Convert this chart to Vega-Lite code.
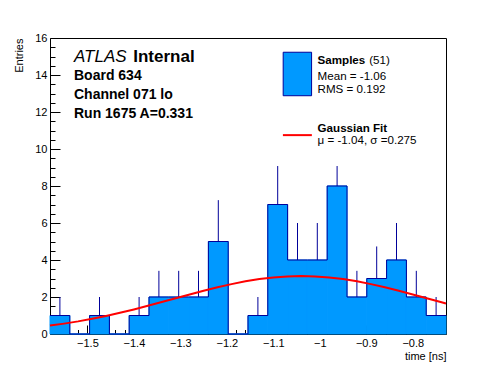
{
  "$schema": "https://vega.github.io/schema/vega-lite/v6.json",
  "width": 396,
  "height": 296,
  "autosize": "none",
  "padding": {"left": 50, "top": 38, "right": 50, "bottom": 38},
  "background": "white",
  "config": {
    "font": "Liberation Sans",
    "view": {"stroke": "black", "strokeWidth": 1},
    "axis": {
      "grid": false, "domain": false, "labelColor": "black", "tickColor": "black",
      "titleColor": "black", "labelFont": "Liberation Sans", "titleFont": "Liberation Sans",
      "labelFontSize": 11, "titleFontSize": 11, "titleFontWeight": "normal",
      "zindex": 1, "labelOverlap": false, "labelFlush": false
    }
  },
  "data": {"values": [{}]},
  "datasets": {
    "bins": [
      {"x0": -1.5805, "x1": -1.5379, "xc": -1.5592, "n": 1, "eh": 2},
      {"x0": -1.5379, "x1": -1.4953, "xc": -1.5166, "n": 0, "eh": 0},
      {"x0": -1.4953, "x1": -1.4527, "xc": -1.474, "n": 1, "eh": 2},
      {"x0": -1.4527, "x1": -1.4101, "xc": -1.4314, "n": 0, "eh": 0},
      {"x0": -1.4101, "x1": -1.3675, "xc": -1.3888, "n": 1, "eh": 2},
      {"x0": -1.3675, "x1": -1.3249, "xc": -1.3462, "n": 2, "eh": 3.414},
      {"x0": -1.3249, "x1": -1.2823, "xc": -1.3036, "n": 2, "eh": 3.414},
      {"x0": -1.2823, "x1": -1.2397, "xc": -1.261, "n": 2, "eh": 3.414},
      {"x0": -1.2397, "x1": -1.1971, "xc": -1.2184, "n": 5, "eh": 7.236},
      {"x0": -1.1971, "x1": -1.1545, "xc": -1.1758, "n": 0, "eh": 0},
      {"x0": -1.1545, "x1": -1.1119, "xc": -1.1332, "n": 1, "eh": 2},
      {"x0": -1.1119, "x1": -1.0693, "xc": -1.0906, "n": 7, "eh": 9.08},
      {"x0": -1.0693, "x1": -1.0267, "xc": -1.048, "n": 4, "eh": 6},
      {"x0": -1.0267, "x1": -0.9841, "xc": -1.0054, "n": 4, "eh": 6},
      {"x0": -0.9841, "x1": -0.9415, "xc": -0.9628, "n": 8, "eh": 9.08},
      {"x0": -0.9415, "x1": -0.8989, "xc": -0.9202, "n": 2, "eh": 3.414},
      {"x0": -0.8989, "x1": -0.8563, "xc": -0.8776, "n": 3, "eh": 4.732},
      {"x0": -0.8563, "x1": -0.8137, "xc": -0.835, "n": 4, "eh": 6},
      {"x0": -0.8137, "x1": -0.7711, "xc": -0.7924, "n": 2, "eh": 3.414},
      {"x0": -0.7711, "x1": -0.7285, "xc": -0.7498, "n": 1, "eh": 2}
    ],
    "edges": [
      {"t": -1.5805, "n": 1}, {"t": -1.5379, "n": 0}, {"t": -1.4953, "n": 1}, {"t": -1.4527, "n": 0},
      {"t": -1.4101, "n": 1}, {"t": -1.3675, "n": 2}, {"t": -1.3249, "n": 2}, {"t": -1.2823, "n": 2},
      {"t": -1.2397, "n": 5}, {"t": -1.1971, "n": 0}, {"t": -1.1545, "n": 1}, {"t": -1.1119, "n": 7},
      {"t": -1.0693, "n": 4}, {"t": -1.0267, "n": 4}, {"t": -0.9841, "n": 8}, {"t": -0.9415, "n": 2},
      {"t": -0.8989, "n": 3}, {"t": -0.8563, "n": 4}, {"t": -0.8137, "n": 2}, {"t": -0.7711, "n": 1},
      {"t": -0.7285, "n": 1}
    ],
    "fit": [
      {"t": -1.5805, "f": 0.454}, {"t": -1.55, "f": 0.561}, {"t": -1.52, "f": 0.682}, {"t": -1.49, "f": 0.821},
      {"t": -1.46, "f": 0.975}, {"t": -1.43, "f": 1.145}, {"t": -1.40, "f": 1.329}, {"t": -1.37, "f": 1.524},
      {"t": -1.34, "f": 1.727}, {"t": -1.31, "f": 1.933}, {"t": -1.28, "f": 2.139}, {"t": -1.25, "f": 2.338},
      {"t": -1.22, "f": 2.527}, {"t": -1.19, "f": 2.697}, {"t": -1.16, "f": 2.846}, {"t": -1.13, "f": 2.967},
      {"t": -1.10, "f": 3.056}, {"t": -1.07, "f": 3.111}, {"t": -1.04, "f": 3.13}, {"t": -1.01, "f": 3.111},
      {"t": -0.98, "f": 3.056}, {"t": -0.95, "f": 2.967}, {"t": -0.92, "f": 2.846}, {"t": -0.89, "f": 2.697},
      {"t": -0.86, "f": 2.527}, {"t": -0.83, "f": 2.338}, {"t": -0.80, "f": 2.139}, {"t": -0.77, "f": 1.933},
      {"t": -0.74, "f": 1.727}, {"t": -0.7285, "f": 1.648}
    ]
  },
  "resolve": {"axis": {"x": "independent", "y": "independent"}},
  "layer": [
    {
      "data": {"name": "bins"},
      "mark": {"type": "rect", "fill": "#0099ff", "stroke": "#0099ff", "strokeWidth": 1},
      "encoding": {
        "x": {"field": "x0", "type": "quantitative",
          "scale": {"domain": [-1.5805, -0.7285], "nice": false, "zero": false},
          "axis": {"orient": "bottom", "values": [-1.5, -1.4, -1.3, -1.2, -1.1, -1, -0.9, -0.8], "format": "~g",
            "tickSize": -9, "labelPadding": 12, "title": "time [ns]", "titleAnchor": "end", "titlePadding": 2}},
        "x2": {"field": "x1"},
        "y": {"field": "n", "type": "quantitative",
          "scale": {"domain": [0, 16], "nice": false, "zero": true},
          "axis": {"orient": "left", "values": [0, 2, 4, 6, 8, 10, 12, 14, 16], "format": "d",
            "tickSize": -10, "labelPadding": 13, "title": "Entries", "titleAnchor": "end", "titlePadding": 10}},
        "y2": {"datum": 0}
      }
    },
    {
      "data": {"name": "bins"},
      "mark": {"type": "rule", "color": "#000099", "strokeWidth": 1},
      "encoding": {
        "x": {"field": "xc", "type": "quantitative", "axis": null},
        "y": {"field": "n", "type": "quantitative", "axis": null},
        "y2": {"field": "eh"}
      }
    },
    {
      "data": {"name": "edges"},
      "mark": {"type": "line", "interpolate": "step-after", "color": "#000099", "strokeWidth": 1},
      "encoding": {
        "x": {"field": "t", "type": "quantitative",
          "axis": {"orient": "bottom", "labels": false, "title": null, "tickSize": -4.5,
            "values": [-1.58, -1.56, -1.54, -1.52, -1.5, -1.48, -1.46, -1.44, -1.42, -1.4, -1.38, -1.36, -1.34, -1.32, -1.3, -1.28, -1.26, -1.24, -1.22, -1.2, -1.18, -1.16, -1.14, -1.12, -1.1, -1.08, -1.06, -1.04, -1.02, -1, -0.98, -0.96, -0.94, -0.92, -0.9, -0.88, -0.86, -0.84, -0.82, -0.8, -0.78, -0.76, -0.74]}},
        "y": {"field": "n", "type": "quantitative",
          "axis": {"orient": "left", "labels": false, "title": null, "tickSize": -5,
            "values": [0.5, 1, 1.5, 2, 2.5, 3, 3.5, 4, 4.5, 5, 5.5, 6, 6.5, 7, 7.5, 8, 8.5, 9, 9.5, 10, 10.5, 11, 11.5, 12, 12.5, 13, 13.5, 14, 14.5, 15, 15.5]}}
      }
    },
    {
      "data": {"name": "fit"},
      "mark": {"type": "line", "color": "#ff0000", "strokeWidth": 2},
      "encoding": {
        "x": {"field": "t", "type": "quantitative", "axis": null},
        "y": {"field": "f", "type": "quantitative", "axis": null}
      }
    },
    {
      "mark": {"type": "rect", "fill": "#0099ff", "stroke": "#000099", "strokeWidth": 1},
      "encoding": {
        "x": {"datum": -1.0788, "type": "quantitative", "axis": null},
        "x2": {"datum": -1.0177},
        "y": {"datum": 15.23, "type": "quantitative", "axis": null},
        "y2": {"datum": 12.88}
      }
    },
    {
      "mark": {"type": "rule", "color": "#ff0000", "strokeWidth": 2},
      "encoding": {
        "x": {"datum": -1.0794, "type": "quantitative", "axis": null},
        "x2": {"datum": -1.0171},
        "y": {"datum": 10.75, "type": "quantitative", "axis": null}
      }
    },
    {
      "mark": {"type": "text", "text": "ATLAS", "fontStyle": "italic", "fontSize": 17, "align": "left", "baseline": "alphabetic", "color": "black"},
      "encoding": {"x": {"datum": -1.5289, "type": "quantitative", "axis": null}, "y": {"datum": 14.69, "type": "quantitative", "axis": null}}
    },
    {
      "mark": {"type": "text", "text": "Internal", "fontWeight": "bold", "fontSize": 17, "align": "left", "baseline": "alphabetic", "color": "black"},
      "encoding": {"x": {"datum": -1.4014, "type": "quantitative", "axis": null}, "y": {"datum": 14.69, "type": "quantitative", "axis": null}}
    },
    {
      "mark": {"type": "text", "text": ["Board 634", "Channel 071 lo", "Run 1675 A=0.331"], "lineHeight": 19, "fontWeight": "bold", "fontSize": 14, "align": "left", "baseline": "alphabetic", "color": "black"},
      "encoding": {"x": {"datum": -1.5289, "type": "quantitative", "axis": null}, "y": {"datum": 13.73, "type": "quantitative", "axis": null}}
    },
    {
      "mark": {"type": "text", "text": "Samples", "fontWeight": "bold", "fontSize": 11.6, "align": "left", "baseline": "alphabetic", "color": "black"},
      "encoding": {"x": {"datum": -1.0048, "type": "quantitative", "axis": null}, "y": {"datum": 14.6, "type": "quantitative", "axis": null}}
    },
    {
      "mark": {"type": "text", "text": "(51)", "fontSize": 11.6, "align": "left", "baseline": "alphabetic", "color": "black"},
      "encoding": {"x": {"datum": -0.8938, "type": "quantitative", "axis": null}, "y": {"datum": 14.6, "type": "quantitative", "axis": null}}
    },
    {
      "mark": {"type": "text", "text": ["Mean = -1.06", "RMS = 0.192"], "lineHeight": 13, "fontSize": 11.6, "align": "left", "baseline": "alphabetic", "color": "black"},
      "encoding": {"x": {"datum": -1.0048, "type": "quantitative", "axis": null}, "y": {"datum": 13.73, "type": "quantitative", "axis": null}}
    },
    {
      "mark": {"type": "text", "text": "Gaussian Fit", "fontWeight": "bold", "fontSize": 11.6, "align": "left", "baseline": "alphabetic", "color": "black"},
      "encoding": {"x": {"datum": -1.0048, "type": "quantitative", "axis": null}, "y": {"datum": 10.91, "type": "quantitative", "axis": null}}
    },
    {
      "mark": {"type": "text", "text": "μ = -1.04, σ =0.275", "fontSize": 11.6, "align": "left", "baseline": "alphabetic", "color": "black"},
      "encoding": {"x": {"datum": -1.0048, "type": "quantitative", "axis": null}, "y": {"datum": 10.25, "type": "quantitative", "axis": null}}
    }
  ]
}
